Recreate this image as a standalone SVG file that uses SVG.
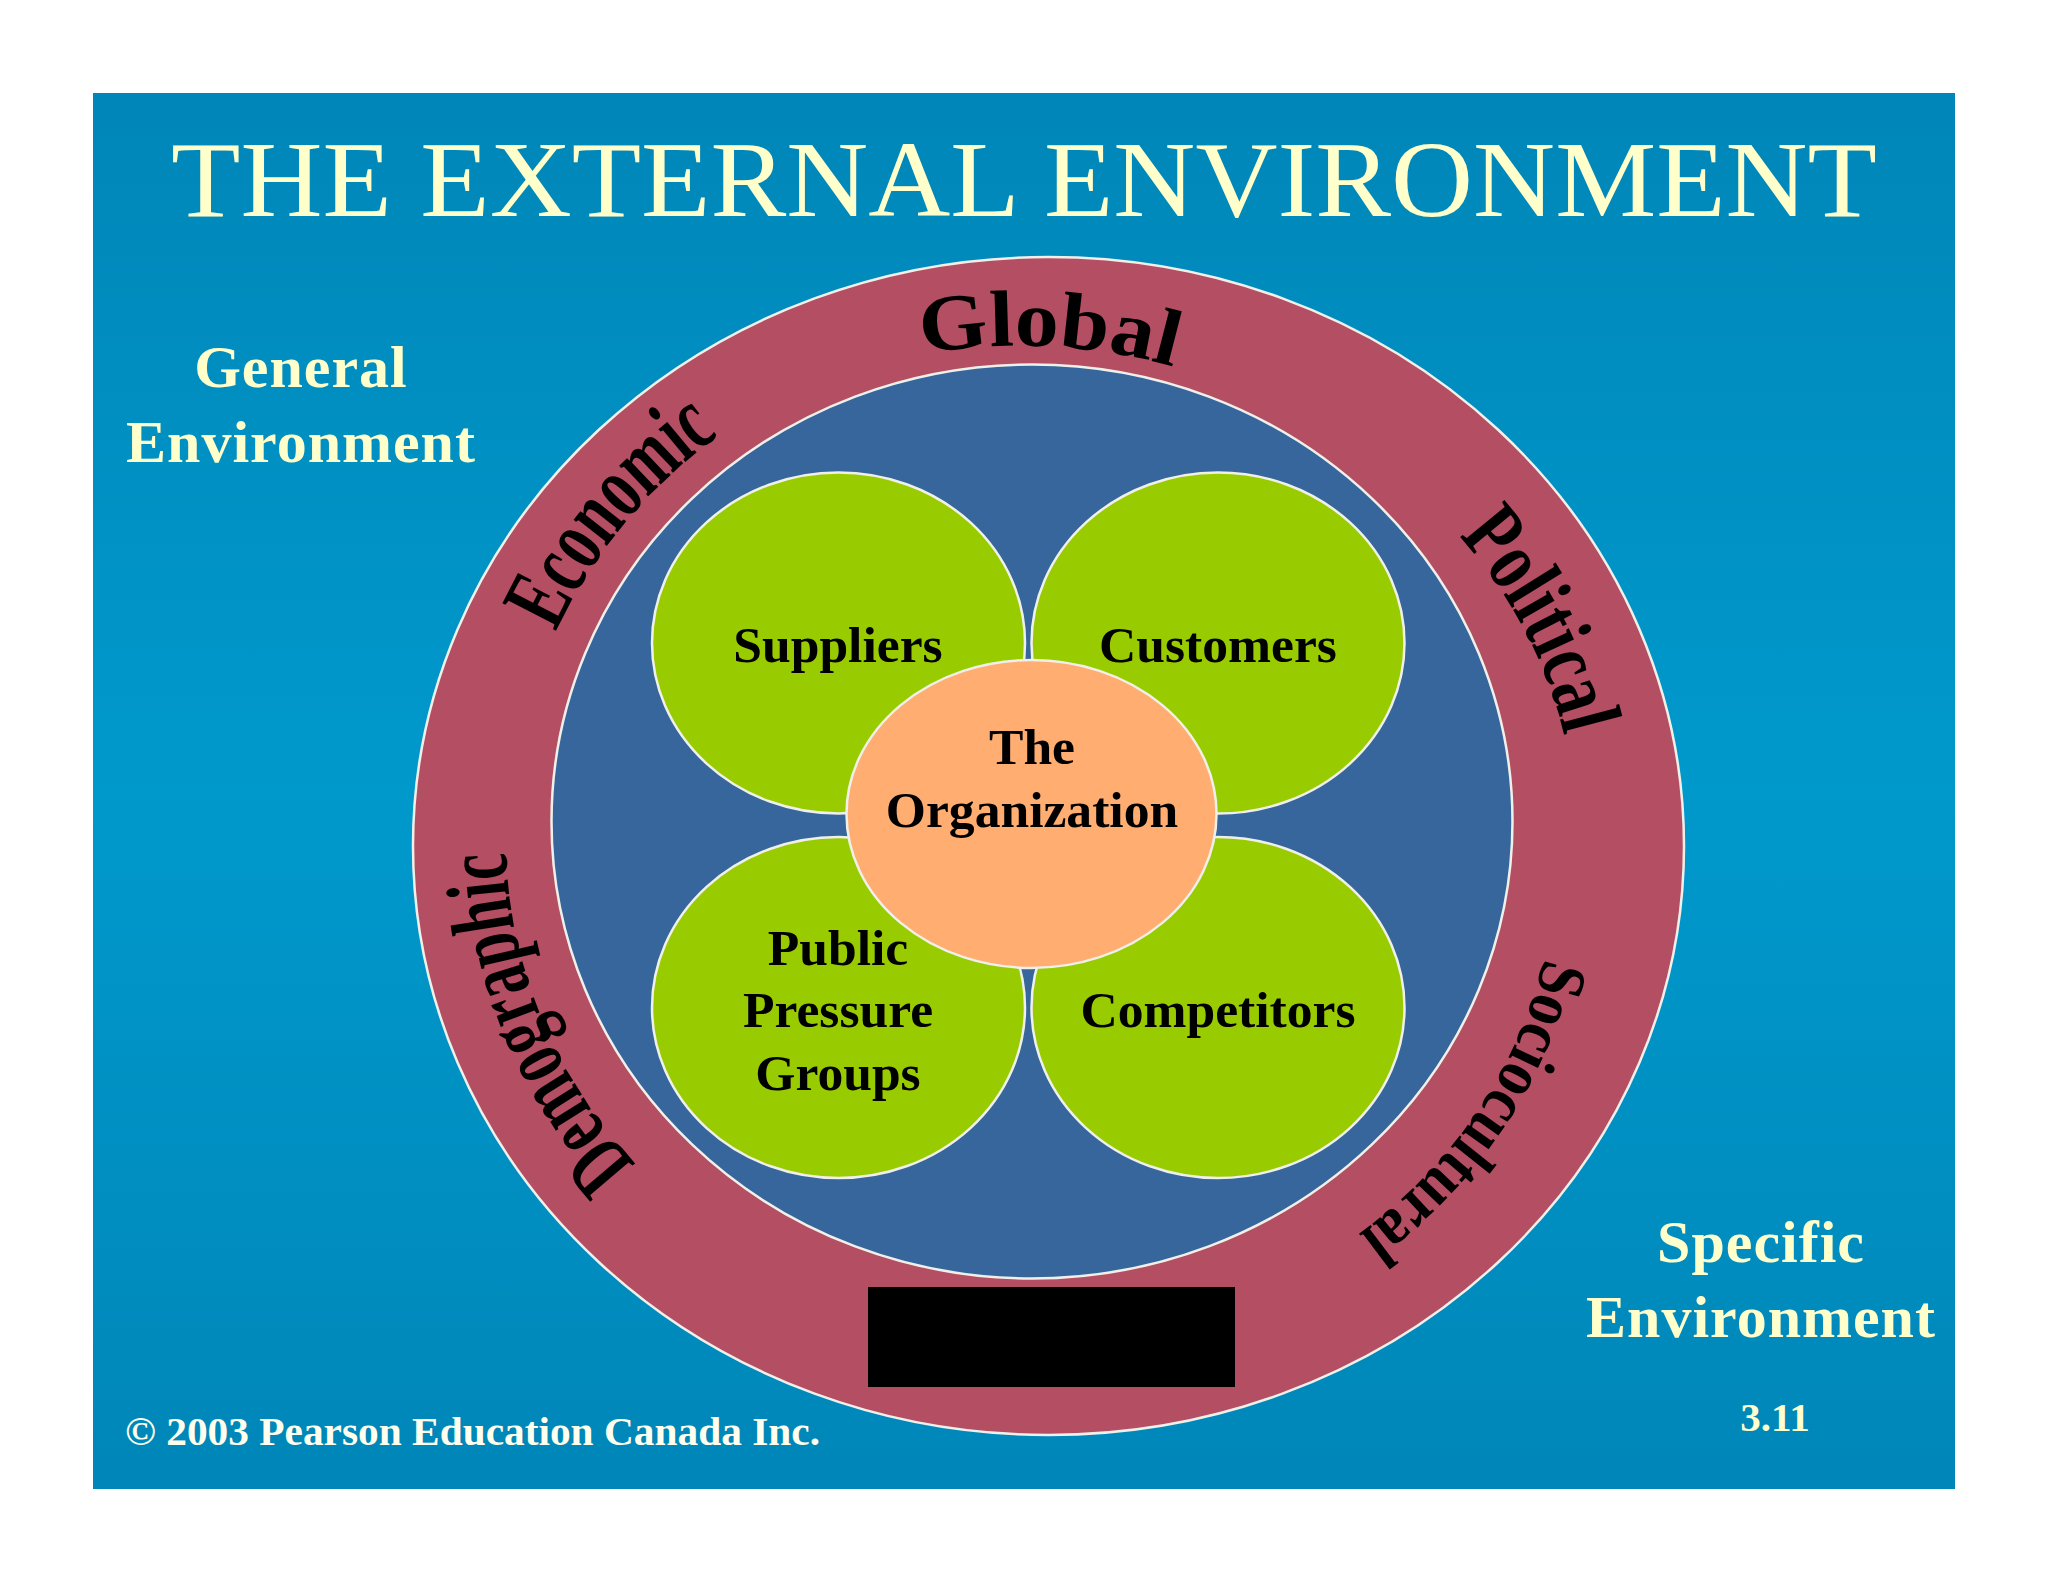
<svg xmlns="http://www.w3.org/2000/svg" width="2048" height="1582" viewBox="0 0 2048 1582">
<style>
.s{stroke:#f0f0ea;stroke-width:2.5}
.b{font-family:"Liberation Serif",serif;font-weight:700;text-anchor:middle}
.n{font-size:51.6px;fill:#000}
.e{font-size:60px;fill:#ffffcc;letter-spacing:1px}
.w{font-family:"Liberation Serif",serif;font-weight:700;fill:#000}
</style>
<defs>
<linearGradient id="bg" x1="0" y1="0" x2="0" y2="1">
<stop offset="0" stop-color="#0086b8"/><stop offset="0.5" stop-color="#0099cc"/><stop offset="1" stop-color="#0086b8"/>
</linearGradient>
<path id="pGlobal" d="M922 354 A540 508 0 0 1 1185 370"/>
<path id="pEconomic" d="M556 632 A535 497 0 0 1 724 432"/>
<path id="pPolitical" d="M1459 536 A490 470 0 0 1 1568 752"/>
<path id="pSocio" d="M1544 958 A510 478 0 0 1 1357 1235"/>
<path id="pDemo" d="M636 1164 A535 497 0 0 1 506 840"/>
</defs>
<rect width="2048" height="1582" fill="#fff"/>
<rect x="93" y="93" width="1862" height="1396" fill="url(#bg)"/>
<text id="title" x="1024" y="216" font-family="Liberation Serif, serif" font-size="108" fill="#ffffcc" text-anchor="middle" textLength="1706" lengthAdjust="spacingAndGlyphs">THE EXTERNAL ENVIRONMENT</text>
<g id="general-environment-ring">
<ellipse class="s" cx="1048.5" cy="846" rx="635.5" ry="589" fill="#b44e63"/>
<text class="w" font-size="80"><textPath href="#pGlobal" textLength="254" lengthAdjust="spacingAndGlyphs">Global</textPath></text>
<text class="w" font-size="92"><textPath href="#pEconomic" textLength="258" lengthAdjust="spacingAndGlyphs">Economic</textPath></text>
<text class="w" font-size="88"><textPath href="#pPolitical" textLength="228" lengthAdjust="spacingAndGlyphs">Political</textPath></text>
<text class="w" font-size="68"><textPath href="#pSocio" textLength="340" lengthAdjust="spacingAndGlyphs">Sociocultural</textPath></text>
<text class="w" font-size="90"><textPath href="#pDemo" textLength="345" lengthAdjust="spacingAndGlyphs">Demographic</textPath></text>
<rect x="868" y="1287" width="367" height="100" fill="#000"/>
</g>
<g id="specific-environment"><ellipse class="s" cx="1032" cy="821.5" rx="480.5" ry="457" fill="#36669b"/></g>
<g id="suppliers"><ellipse class="s" cx="838.5" cy="643" rx="186.5" ry="170.5" fill="#99cc00"/><text class="b n" x="838" y="662">Suppliers</text></g>
<g id="customers"><ellipse class="s" cx="1218" cy="643" rx="186.5" ry="170.5" fill="#99cc00"/><text class="b n" x="1218" y="662">Customers</text></g>
<g id="public-pressure-groups"><ellipse class="s" cx="838.5" cy="1007.5" rx="186.5" ry="170.5" fill="#99cc00"/><text class="b n" x="838" y="965">Public</text><text class="b n" x="838" y="1027">Pressure</text><text class="b n" x="838" y="1090">Groups</text></g>
<g id="competitors"><ellipse class="s" cx="1218" cy="1007.5" rx="186.5" ry="170.5" fill="#99cc00"/><text class="b n" x="1218" y="1027">Competitors</text></g>
<g id="organization"><ellipse class="s" cx="1031.5" cy="814" rx="185" ry="154" fill="#ffad71"/><text class="b n" x="1032" y="764">The</text><text class="b n" x="1032" y="827">Organization</text></g>
<g id="labels">
<text class="b e" x="301" y="387">General</text><text class="b e" x="301" y="462">Environment</text>
<text class="b e" x="1761" y="1262">Specific</text><text class="b e" x="1761" y="1337">Environment</text>
<text class="b" x="1775" y="1431" font-size="41" fill="#ffffcc">3.11</text>
<text x="125" y="1445" font-family="Liberation Serif, serif" font-weight="700" font-size="41" fill="#ffffee" textLength="695" lengthAdjust="spacingAndGlyphs">© 2003 Pearson Education Canada Inc.</text>
</g>
</svg>
